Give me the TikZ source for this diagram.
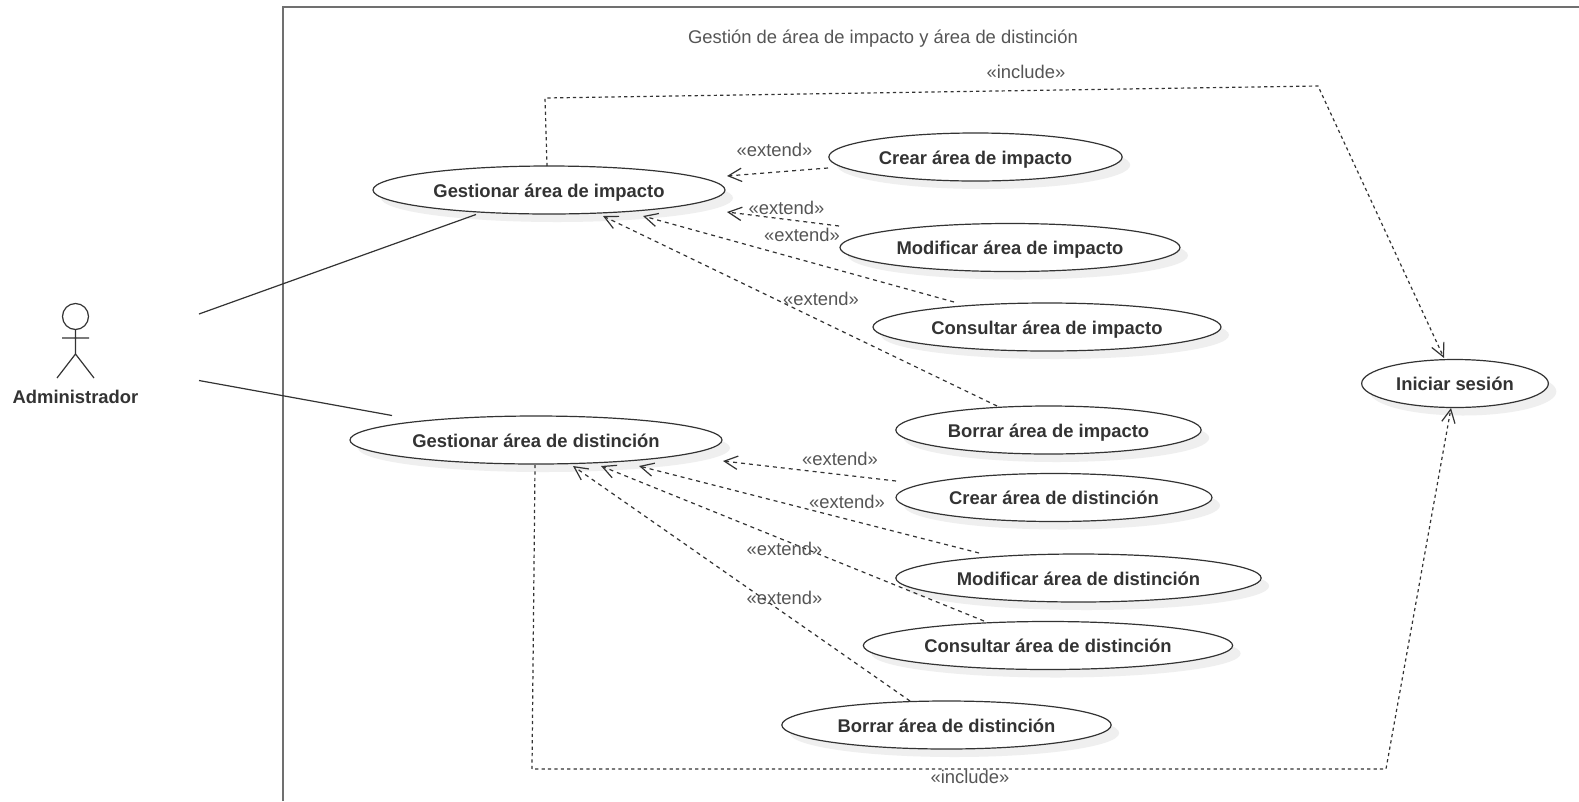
\documentclass[tikz,border=0pt]{standalone}
\usepackage{fontspec}
\setmainfont{Liberation Sans}
\usetikzlibrary{shapes.geometric,arrows.meta,shadows}
\definecolor{inktext}{HTML}{333333}
\definecolor{labeltext}{HTML}{555555}
\definecolor{inkline}{HTML}{333333}
\definecolor{framegray}{HTML}{707070}
\definecolor{shadowgray}{HTML}{EFEFEF}
\tikzset{
  ucase/.style={ellipse,draw=inkline,fill=white,line width=.9pt,inner sep=0pt,minimum height=36pt,
    text=inktext,font=\bfseries\fontsize{13.8}{16}\selectfont,text height=13pt,text depth=2.5pt,
    drop shadow={shadow xshift=6pt,shadow yshift=-6pt,fill=shadowgray,opacity=1}},
  lbl/.style={text=labeltext,font=\fontsize{13.8}{16}\selectfont,inner sep=0pt},
  ext/.style={draw=inkline,line width=.9pt,dash pattern=on 3pt off 3pt,
    -{Straight Barb[length=10pt,width=10pt,line width=.9pt]}},
  inc/.style={draw=inkline,line width=.9pt,dash pattern=on 2.4pt off 2.4pt,
    -{Straight Barb[length=10pt,width=10pt,line width=.9pt]}},
  assoc/.style={draw=inkline,line width=.9pt},
  figure/.style={draw=inkline,line width=.9pt}
}
\begin{document}
\begin{tikzpicture}[x=.75pt,y=-.75pt]
\useasboundingbox (0,0) rectangle (1579,801);
\fill[white] (0,0) rectangle (1579,801);
\draw[framegray,line width=1.5pt] (283,801) -- (283,6.5) -- (1579,6.5);
\node[lbl] (title) at (883,38.5) {Gestión de área de impacto y área de distinción};

% actor
\draw[figure] (75.5,316.5) circle (13);
\draw[figure] (75.5,329.5) -- (75.5,354) (62,338) -- (89,338) (57,378) -- (75.5,354) -- (94,378);
\node[text=inktext,font=\bfseries\fontsize{13.8}{16}\selectfont,inner sep=0pt] (admin) at (75.5,396.5) {Administrador};
\coordinate (a1) at (199,314);
\coordinate (a2) at (199,380.5);

% use cases
\node[ucase,minimum width=264pt] (gi) at (549,190) {Gestionar área de impacto};
\node[ucase,minimum width=220pt] (ci) at (975.5,157) {Crear área de impacto};
\node[ucase,minimum width=255pt] (mi) at (1010,247.5) {Modificar área de impacto};
\node[ucase,minimum width=261pt] (coi) at (1047,327) {Consultar área de impacto};
\node[ucase,minimum width=229pt] (bi) at (1048.5,430) {Borrar área de impacto};
\node[ucase,minimum width=140pt] (is) at (1455,383.5) {Iniciar sesión};
\node[ucase,minimum width=279pt] (gd) at (536,440) {Gestionar área de distinción};
\node[ucase,minimum width=237pt] (cd) at (1054,497.5) {Crear área de distinción};
\node[ucase,minimum width=274pt] (md) at (1078.5,578) {Modificar área de distinción};
\node[ucase,minimum width=277pt] (cod) at (1048,645.5) {Consultar área de distinción};
\node[ucase,minimum width=247pt] (bd) at (946.5,725) {Borrar área de distinción};

% associations
\draw[assoc] (a1) -- ([shift={(-73,24.5)}]gi.center);
\draw[assoc] (a2) -- ([shift={(-144,-24.5)}]gd.center);

% extend
\draw[ext] ([shift={(-147.5,11)}]ci.center) -- ([shift={(178,-14)}]gi.center);
\draw[ext] ([shift={(-171,-21.5)}]mi.center) -- ([shift={(178,22)}]gi.center);
\draw[ext] ([shift={(-93,-25)}]coi.center) -- ([shift={(94,26)}]gi.center);
\draw[ext] ([shift={(-51.5,-24)}]bi.center) -- ([shift={(54,26)}]gi.center);
\draw[ext] ([shift={(-158,-16.5)}]cd.center) -- ([shift={(187,21)}]gd.center);
\draw[ext] ([shift={(-99.5,-25)}]md.center) -- ([shift={(103,26)}]gd.center);
\draw[ext] ([shift={(-64,-24.5)}]cod.center) -- ([shift={(65,26)}]gd.center);
\draw[ext] ([shift={(-36.5,-24)}]bd.center) -- ([shift={(37,26)}]gd.center);

% include
\coordinate (t1) at (545,98);
\coordinate (t2) at (1318,86);
\coordinate (b1) at (532,769);
\coordinate (b2) at (1386,769);
\draw[inc] ([shift={(-2,-24)}]gi.center) -- (t1) -- (t2) -- ([shift={(-11,-25.5)}]is.center);
\draw[inc] ([shift={(-1,25)}]gd.center) -- (b1) -- (b2) -- ([shift={(-4,24.5)}]is.center);

% labels
\node[lbl] (l1) at (1026,72) {«include»};
\node[lbl] (l2) at (970,777) {«include»};
\node[lbl] (e1) at (774.5,150) {«extend»};
\node[lbl] (e2) at (786.5,208) {«extend»};
\node[lbl] (e3) at (802,234.5) {«extend»};
\node[lbl] (e4) at (821,298.5) {«extend»};
\node[lbl] (e5) at (840,458.5) {«extend»};
\node[lbl] (e6) at (847,502) {«extend»};
\node[lbl] (e7) at (784.5,548.5) {«extend»};
\node[lbl] (e8) at (784.5,597.5) {«extend»};
\end{tikzpicture}
\end{document}
